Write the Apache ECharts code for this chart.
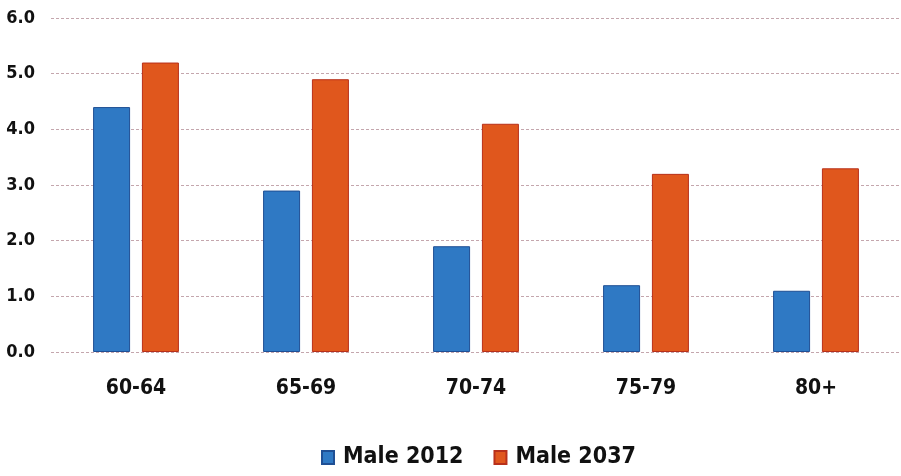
<!DOCTYPE html>
<html>
<head>
<meta charset="utf-8">
<script src="https://cdn.jsdelivr.net/npm/echarts@6/dist/echarts.min.js"></script>
<style>
  html, body { margin: 0; padding: 0; background: #ffffff; }
  #chart { width: 901px; height: 476px; }
</style>
</head>
<body>
<div id="chart"></div>
<script>
// Age groups on the x axis
const ageGroups = ['60-64', '65-69', '70-74', '75-79', '80+'];
// Male population per age group, two years
const male2012 = [4.4, 2.9, 1.9, 1.2, 1.1];
const male2037 = [5.2, 4.9, 4.1, 3.2, 3.3];
// Value axis ticks
const yTicks = [0, 1, 2, 3, 4, 5, 6];

const FONT = "'Liberation Sans Narrow', 'DejaVu Sans Condensed', 'Open Sans', sans-serif";

const chart = echarts.init(document.getElementById('chart'), null, { renderer: 'canvas' });

chart.setOption({
  backgroundColor: '#ffffff',
  animation: false,
  grid: { left: 51, right: 0, top: 18, bottom: 124, containLabel: false },
  legend: {
    bottom: 2,
    left: 316,
    icon: 'rect',
    itemWidth: 12,
    itemHeight: 13,
    itemGap: 30,
    textStyle: {
      fontFamily: FONT, fontWeight: 'bold', fontSize: 23, color: '#111',
      padding: [0, 0, 0, 4]
    },
    data: ['Male 2012', 'Male 2037']
  },
  xAxis: {
    type: 'category',
    data: ageGroups,
    axisLine: { show: false },
    axisTick: { show: false },
    axisLabel: {
      margin: 26,
      fontFamily: FONT, fontWeight: 'bold', fontSize: 21, color: '#111'
    }
  },
  yAxis: {
    type: 'value',
    min: yTicks[0],
    max: yTicks[yTicks.length - 1],
    interval: 1,
    axisLine: { show: false },
    axisTick: { show: false },
    axisLabel: {
      margin: 16,
      formatter: v => v.toFixed(1),
      fontFamily: FONT, fontWeight: 'bold', fontSize: 18, color: '#111'
    },
    splitLine: {
      lineStyle: { color: '#c4a6ad', type: [3, 2], width: 1 }
    }
  },
  series: [
    {
      name: 'Male 2012',
      type: 'bar',
      data: male2012,
      barWidth: 37,
      barGap: '32%',
      itemStyle: { color: '#2f79c4', borderColor: '#1f4f94', borderWidth: 1 }
    },
    {
      name: 'Male 2037',
      type: 'bar',
      data: male2037,
      barWidth: 37,
      itemStyle: { color: '#e0571d', borderColor: '#b8301a', borderWidth: 1 }
    }
  ]
});
</script>
</body>
</html>
